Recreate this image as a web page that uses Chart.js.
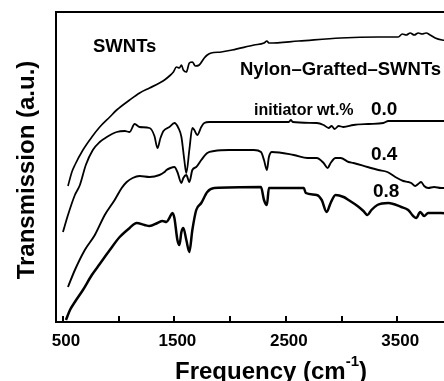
<!DOCTYPE html>
<html>
<head>
<meta charset="utf-8">
<script src="https://cdn.jsdelivr.net/npm/chart.js@4.4.1/dist/chart.umd.min.js"></script>
<style>
  html, body { margin: 0; padding: 0; background: #fff; overflow: hidden; }
  #wrap { width: 462px; height: 381px; }
</style>
</head>
<body>
<div id="wrap"><canvas id="ftir" width="462" height="381"></canvas></div>
<script>
// Spectra (wavenumber in cm-1, transmission in a.u.)
const wnSwnt = [545, 580, 607, 679, 759, 830, 920, 982, 1098, 1188, 1277, 1366, 1411, 1455, 1491, 1518, 1545, 1563, 1580, 1607, 1634, 1661, 1688, 1723, 1768, 1795, 1830, 1920, 2018, 2214, 2304, 2330, 2348, 2616, 2991, 3330, 3509, 3545, 3580, 3616, 3652, 3688, 3723, 3759, 3795, 3840, 3902, 4000];
const trSwnt = [1.36, 1.50, 1.57, 1.72, 1.85, 1.95, 2.05, 2.12, 2.22, 2.29, 2.34, 2.39, 2.42, 2.46, 2.50, 2.55, 2.54, 2.57, 2.52, 2.50, 2.59, 2.60, 2.56, 2.57, 2.64, 2.67, 2.69, 2.70, 2.72, 2.77, 2.79, 2.81, 2.79, 2.81, 2.84, 2.85, 2.85, 2.88, 2.87, 2.89, 2.87, 2.89, 2.88, 2.89, 2.87, 2.84, 2.82, 2.81];

const wn00 = [500, 545, 607, 652, 705, 768, 830, 893, 982, 1054, 1098, 1143, 1188, 1277, 1321, 1348, 1375, 1402, 1455, 1500, 1536, 1563, 1589, 1607, 1634, 1661, 1679, 1705, 1741, 1768, 1813, 1991, 2527, 2545, 2562, 2777, 2839, 2884, 2911, 2938, 2973, 3018, 3107, 3241, 3375, 3420, 3688, 3902, 4000];
const tr00 = [0.90, 1.07, 1.27, 1.37, 1.57, 1.72, 1.80, 1.85, 1.90, 1.91, 1.90, 1.98, 1.95, 1.94, 1.86, 1.74, 1.84, 1.91, 1.95, 1.99, 1.94, 1.85, 1.62, 1.49, 1.72, 1.94, 1.92, 1.87, 1.95, 1.99, 2.00, 2.00, 2.00, 2.02, 2.00, 1.99, 1.97, 1.94, 1.96, 1.93, 1.96, 1.95, 1.97, 1.98, 1.99, 2.01, 2.01, 2.01, 2.01];

const wn04 = [545, 607, 696, 786, 875, 964, 1027, 1072, 1125, 1188, 1277, 1366, 1411, 1429, 1464, 1500, 1527, 1563, 1580, 1607, 1634, 1661, 1696, 1741, 1795, 1857, 1991, 2214, 2277, 2304, 2330, 2348, 2375, 2571, 2696, 2777, 2839, 2875, 2902, 2946, 2991, 3063, 3107, 3232, 3330, 3411, 3482, 3554, 3598, 3625, 3661, 3688, 3714, 3741, 3777, 3830, 3893, 4000];
const tr04 = [0.35, 0.52, 0.72, 0.87, 1.07, 1.22, 1.34, 1.40, 1.44, 1.46, 1.45, 1.47, 1.50, 1.52, 1.54, 1.55, 1.50, 1.39, 1.44, 1.47, 1.40, 1.52, 1.55, 1.62, 1.69, 1.71, 1.72, 1.72, 1.70, 1.62, 1.52, 1.65, 1.70, 1.67, 1.64, 1.64, 1.59, 1.54, 1.59, 1.64, 1.64, 1.60, 1.59, 1.55, 1.52, 1.50, 1.45, 1.41, 1.40, 1.39, 1.36, 1.38, 1.40, 1.36, 1.34, 1.35, 1.34, 1.34];

const wn08 = [527, 563, 607, 679, 759, 830, 920, 1009, 1098, 1161, 1232, 1277, 1348, 1393, 1429, 1455, 1482, 1500, 1527, 1545, 1563, 1580, 1607, 1634, 1661, 1696, 1741, 1795, 1857, 2277, 2304, 2330, 2348, 2661, 2679, 2777, 2822, 2866, 2902, 2946, 3018, 3063, 3143, 3196, 3232, 3268, 3321, 3420, 3536, 3598, 3643, 3670, 3706, 3741, 3777, 3893, 4000];
const tr08 = [0.02, 0.12, 0.20, 0.32, 0.47, 0.58, 0.72, 0.85, 0.94, 0.99, 0.97, 0.96, 0.99, 1.01, 1.00, 1.04, 1.09, 1.04, 0.82, 0.77, 0.90, 0.94, 0.82, 0.70, 0.92, 1.12, 1.19, 1.30, 1.34, 1.35, 1.22, 1.17, 1.34, 1.34, 1.29, 1.27, 1.22, 1.10, 1.19, 1.27, 1.25, 1.22, 1.16, 1.11, 1.07, 1.12, 1.17, 1.19, 1.15, 1.12, 1.06, 1.04, 1.10, 1.06, 1.09, 1.09, 1.08];

// x axis ticks
const tickValues = [500, 1000, 1500, 2000, 2500, 3000, 3500, 4000];
const tickLabels = ['500', '', '1500', '', '2500', '', '3500', ''];

const FONT = '"Liberation Sans", Arial, sans-serif';

function toPoints(xs, ys) {
    return xs.map((x, i) => ({ x: x, y: ys[i] }));
}

function series(xs, ys, width) {
    return {
        data: toPoints(xs, ys),
        borderColor: '#000',
        borderWidth: width,
        pointRadius: 0,
        fill: false,
        cubicInterpolationMode: 'monotone'
    };
}

// frame top, inward ticks and all the text on the plot
const decorations = {
    id: 'decorations',
    afterDraw(chart) {
        const ctx = chart.ctx;
        const area = chart.chartArea;
        const xs = chart.scales.x;
        ctx.save();
        ctx.strokeStyle = '#000';
        ctx.lineWidth = 2;
        ctx.beginPath();
        ctx.moveTo(area.left - 1, area.top);
        ctx.lineTo(area.right, area.top);
        ctx.stroke();

        // tick marks point inward
        tickValues.forEach(v => {
            const px = Math.round(xs.getPixelForValue(v));
            ctx.beginPath();
            ctx.moveTo(px, area.bottom);
            ctx.lineTo(px, area.bottom - 6);
            ctx.stroke();
        });

        ctx.fillStyle = '#000';
        ctx.textBaseline = 'middle';
        ctx.textAlign = 'left';
        ctx.font = 'bold 18.5px ' + FONT;
        ctx.fillText('SWNTs', 93, 47);
        ctx.fillText('Nylon\u2013Grafted\u2013SWNTs', 240, 70);
        ctx.font = 'bold 16px ' + FONT;
        ctx.fillText('initiator wt.%', 254, 111);
        ctx.font = 'bold 19px ' + FONT;
        ctx.fillText('0.0', 371, 110);
        ctx.fillText('0.4', 371, 155);
        ctx.fillText('0.8', 373, 192);

        // y title
        ctx.save();
        ctx.translate(27, 170);
        ctx.rotate(-Math.PI / 2);
        ctx.textAlign = 'center';
        ctx.font = 'bold 24px ' + FONT;
        ctx.fillText('Transmission (a.u.)', 0, 0);
        ctx.restore();

        // x title with superscript
        ctx.textBaseline = 'alphabetic';
        const big = 'bold 24px ' + FONT;
        const small = 'bold 15px ' + FONT;
        ctx.font = big;
        const a = 'Frequency (cm';
        const wa = ctx.measureText(a).width;
        const wc = ctx.measureText(')').width;
        ctx.font = small;
        const wb = ctx.measureText('-1').width;
        let x0 = 271 - (wa + wb + wc) / 2;
        ctx.font = big;
        ctx.fillText(a, x0, 379);
        ctx.font = small;
        ctx.fillText('-1', x0 + wa, 366);
        ctx.font = big;
        ctx.fillText(')', x0 + wa + wb, 379);
        ctx.restore();
    }
};

new Chart(document.getElementById('ftir'), {
    type: 'line',
    data: {
        datasets: [
            series(wnSwnt, trSwnt, 1.7),
            series(wn00, tr00, 1.8),
            series(wn04, tr04, 1.9),
            series(wn08, tr08, 2.5)
        ]
    },
    options: {
        responsive: false,
        animation: false,
        devicePixelRatio: 1,
        layout: { padding: { left: 0, top: 12, right: 7, bottom: 0 } },
        plugins: { legend: { display: false }, tooltip: { enabled: false } },
        scales: {
            x: {
                type: 'linear',
                min: 437.5,
                max: 4000,
                afterBuildTicks: s => { s.ticks = tickValues.map(v => ({ value: v })); },
                afterFit: s => { s.height = 59; },
                grid: { display: false, drawTicks: false },
                border: { display: true, color: '#000', width: 2 },
                ticks: {
                    autoSkip: false,
                    maxRotation: 0,
                    padding: 9,
                    labelOffset: 3,
                    color: '#000',
                    font: { family: FONT, size: 17, weight: 'bold' },
                    callback: (v, i) => tickLabels[i]
                }
            },
            y: {
                min: 0,
                max: 3.1,
                afterFit: s => { s.width = 56; },
                grid: { display: false, drawTicks: false },
                border: { display: true, color: '#000', width: 2 },
                ticks: { display: false }
            }
        }
    },
    plugins: [decorations]
});
</script>
</body>
</html>
